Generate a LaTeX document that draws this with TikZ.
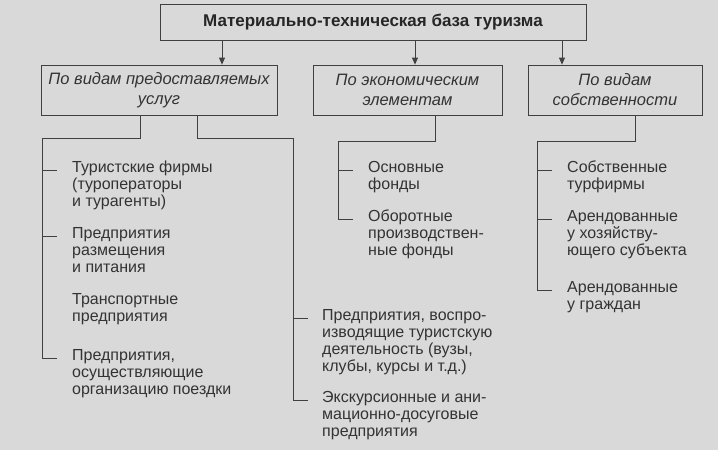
\documentclass[tikz,border=0pt]{standalone}
\usepackage{fontspec}
\setmainfont{Liberation Sans}
\usetikzlibrary{arrows.meta,positioning}
\begin{document}
\begin{tikzpicture}[
x=1pt, y=-1pt,
catbox/.style={rectangle, draw=black!75, line width=0.8pt, align=center, font=\itshape\fontsize{16.5}{20}\selectfont, text=black!80},
titlebox/.style={rectangle, draw=black!75, line width=0.8pt, font=\bfseries\fontsize{17}{20}\selectfont, text=black!85},
item/.style={anchor=north west, align=left, inner sep=0pt, font=\fontsize{16}{17}\selectfont, text=black!80},
link/.style={draw=black!75, line width=0.8pt},
arr/.style={link, -{Triangle[length=7pt,width=6pt]}}]
% Background
\fill[black!15] (0,0) rectangle (718,450);
\useasboundingbox (0,0) rectangle (718,450);
% Boxes
\node[titlebox, minimum width=426pt, minimum height=36pt] (base) at (373,22) {Материально-техническая база туризма};
\node[catbox, minimum width=236pt, minimum height=50pt, inner sep=1pt] (serv) at (159,90) {По видам предоставляемых\\услуг};
\node[catbox, minimum width=189pt, minimum height=50pt] (econ) at (407.5,90) {По экономическим\\элементам};
\node[catbox, minimum width=174pt, minimum height=50pt] (own) at (615,90) {По видам\\собственности};
% Items
\node[item] (s1) at (72,161) {Туристские фирмы\\(туроператоры\\и турагенты)};
\node[item] (s2) at (72,227) {Предприятия\\размещения\\и питания};
\node[item] (s3) at (72,293) {Транспортные\\предприятия};
\node[item] (s4) at (72,349) {Предприятия,\\осуществляющие\\организацию поездки};
\node[item] (s5) at (322,309) {Предприятия, воспро-\\изводящие туристскую\\деятельность (вузы,\\клубы, курсы и т.д.)};
\node[item] (s6) at (322,391) {Экскурсионные и ани-\\мационно-досуговые\\предприятия};
\node[item] (e1) at (368,161) {Основные\\фонды};
\node[item] (e2) at (368,210) {Оборотные\\производствен-\\ные фонды};
\node[item] (o1) at (567,161) {Собственные\\турфирмы};
\node[item] (o2) at (567,210) {Арендованные\\у хозяйству-\\ющего субъекта};
\node[item] (o3) at (567,281) {Арендованные\\у граждан};
% Arrows
\coordinate (a1) at (222,40);
\coordinate (a2) at (415,40);
\coordinate (a3) at (562,40);
\draw[arr] (a1) -- (a1 |- serv.north);
\draw[arr] (a2) -- (a2 |- econ.north);
\draw[arr] (a3) -- (a3 |- own.north);
% Brackets
\draw[link] (140,115) -- (140,138) -- (42,138) -- (42,358) -- (57,358);
\draw[link] (42,170) -- (57,170);
\draw[link] (42,236) -- (57,236);
\draw[link] (197,115) -- (197,138) -- (293,138) -- (293,400) -- (308,400);
\draw[link] (293,318) -- (308,318);
\draw[link] (435,115) -- (435,141) -- (338,141) -- (338,219) -- (353,219);
\draw[link] (338,170) -- (353,170);
\draw[link] (635,115) -- (635,141) -- (537,141) -- (537,290) -- (552,290);
\draw[link] (537,170) -- (552,170);
\draw[link] (537,219) -- (552,219);
\end{tikzpicture}
\end{document}
